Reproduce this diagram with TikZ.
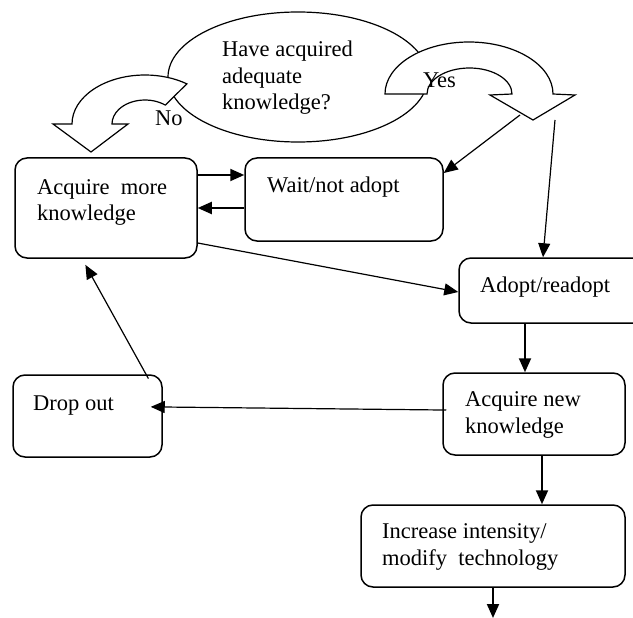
\documentclass[tikz,border=0pt]{standalone}
\usepackage{fontspec}
\setmainfont{Liberation Serif}
\usetikzlibrary{arrows.meta, shapes.geometric}

\begin{document}
\begin{tikzpicture}[x=1pt, y=-1pt,
  box/.style={draw, rounded corners=12pt, line width=1.5pt, inner sep=0pt},
  lbl/.style={anchor=base west, inner sep=0pt, align=left, font=\fontsize{22.5}{26.5}\selectfont},
  arr/.style={-{Triangle[length=14pt, width=12pt]}, line width=1.2pt},
  barr/.style={arr, line width=2pt},
  band/.style={draw, fill=white, line width=1.2pt}
]
\clip (0,0) rectangle (633,618);
% question and the two bent arrows
\node[draw, ellipse, line width=1.2pt, minimum width=260pt, minimum height=130pt, inner sep=0pt] (q) at (298,77) {};
\draw[band] (72,124) arc[start angle=180, end angle=305, x radius=73, y radius=49]
  -- (165.3,105.1) arc[start angle=308, end angle=180, x radius=33, y radius=24]
  -- (128,124) -- (91,152) -- (53,124) -- cycle;
\draw[band] (385,94) arc[start angle=180, end angle=360, x radius=84, y radius=52]
  -- (575,95) -- (533,120) -- (490,95) -- (512,94)
  arc[start angle=0, end angle=-180, x radius=42.5, y radius=26] -- cycle;
% multi-line labels sit on the baseline of their last line
\node[lbl] (qt) at (222,110) {Have acquired\\adequate\\knowledge?};
\node[lbl] (no) at (155,125) {No};
\node[lbl] (yes) at (423,88) {Yes};
\coordinate (yesw) at (520,115);
\coordinate (yesd) at (555,120);

% boxes
\node[box, minimum width=182pt, minimum height=100pt] (amk) at (106,208) {};
\node[lbl] (amkt) at (37,221) {Acquire\ \ more\\knowledge};
\node[box, minimum width=198pt, minimum height=83pt] (wait) at (344,199.5) {};
\node[lbl] (waitt) at (267,193) {Wait/not adopt};
\node[box, minimum width=201pt, minimum height=65pt] (adopt) at (559.5,290.5) {};
\node[lbl] (adoptt) at (480,292) {Adopt/readopt};
\node[box, minimum width=182pt, minimum height=82pt] (newk) at (534,414) {};
\node[lbl] (newkt) at (465,433) {Acquire new\\knowledge};
\node[box, minimum width=264pt, minimum height=82pt] (incr) at (493,546) {};
\node[lbl] (incrt) at (382,565) {Increase intensity/\\modify\ \ technology};
\node[box, minimum width=149pt, minimum height=82pt] (drop) at (87.5,416) {};
\node[lbl] (dropt) at (33,410) {Drop out};
\coordinate (out) at (493,618);

% connectors
\draw[barr] (amk.east |- 0,175) -- (wait.west |- 0,175);
\draw[barr] (wait.west |- 0,208) -- (amk.east |- 0,208);
\draw[arr] (yesw) -- (wait.east |- 0,173);
\draw[arr] (yesd) -- (adopt.north -| 543,0);
\draw[arr] (amk.east |- 0,243) -- (adopt.west |- 0,292);
\draw[barr] (adopt.south -| 525,0) -- (newk.north -| 525,0);
\draw[arr, shorten <=-4pt, shorten >=-12pt] (newk.west |- 0,410) -- (drop.east |- 0,407);
\draw[arr, shorten <=-5pt, shorten >=7pt] (drop.north -| 146,0) -- (amk.south -| 82,0);
\draw[barr] (newk.south -| 542,0) -- (incr.north -| 542,0);
\draw[barr] (incr.south -| 493,0) -- (out);
\end{tikzpicture}
\end{document}
